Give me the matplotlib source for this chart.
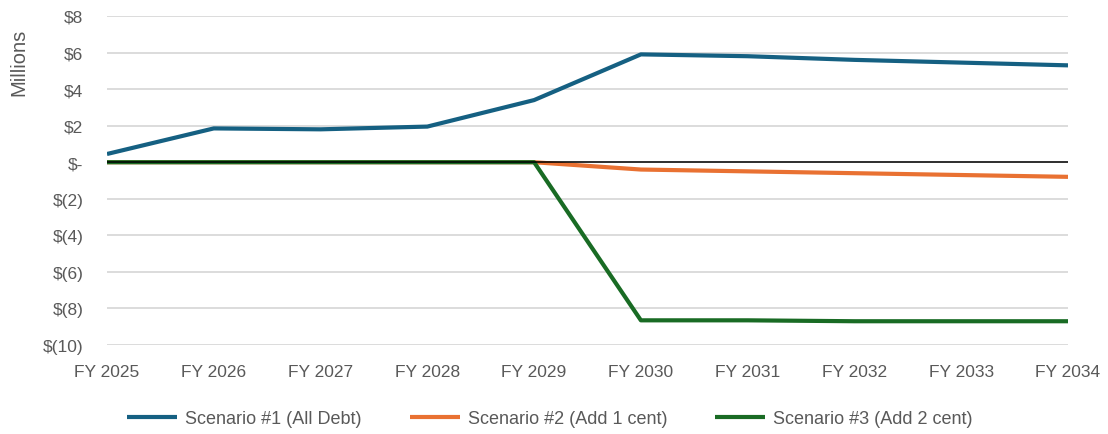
import matplotlib
matplotlib.use("Agg")
import matplotlib.pyplot as plt
from matplotlib.ticker import FuncFormatter, MultipleLocator

years = ["FY 2025", "FY 2026", "FY 2027", "FY 2028", "FY 2029",
         "FY 2030", "FY 2031", "FY 2032", "FY 2033", "FY 2034"]
scenario1 = [0.45, 1.85, 1.8, 1.95, 3.4, 5.9, 5.8, 5.6, 5.45, 5.3]
scenario2 = [0.0, 0.0, 0.0, 0.0, 0.0, -0.4, -0.5, -0.6, -0.7, -0.8]
scenario3 = [0.0, 0.0, 0.0, 0.0, 0.0, -8.65, -8.65, -8.7, -8.7, -8.7]
labels = ["Scenario #1 (All Debt)", "Scenario #2 (Add 1 cent)", "Scenario #3 (Add 2 cent)"]
colors = ["#156082", "#E97132", "#196B24"]

plt.rcParams['font.family'] = ['Liberation Sans', 'DejaVu Sans']

fig = plt.figure(figsize=(11.08, 4.35), dpi=100)
ax = fig.add_axes([107/1108, 1-346/435, (1068-107)/1108, (346-17)/435])

x = list(range(len(years)))
# orange under green, black zero line over green, blue on top
ax.plot(x, scenario1, color=colors[0], lw=3, label=labels[0], zorder=6, solid_capstyle="butt")
ax.plot(x, scenario2, color=colors[1], lw=3, label=labels[1], zorder=3, solid_capstyle="butt")
ax.plot(x, scenario3, color=colors[2], lw=3, label=labels[2], zorder=4, solid_capstyle="butt")

ax.set_xlim(0, 9)
ax.set_ylim(-10, 8)
ax.yaxis.set_major_locator(MultipleLocator(2))
ax.grid(axis="y", color="#D9D9D9", lw=1.3, zorder=0)
ax.axhline(0, color="black", lw=1.1, zorder=5)
for s in ax.spines.values():
    s.set_visible(False)

def money(v, pos):
    v = int(round(v))
    if v == 0:
        return "$-"
    if v < 0:
        return "$(%d)" % (-v)
    return "$%d" % v

ax.yaxis.set_major_formatter(FuncFormatter(money))
ax.set_xticks(x)
ax.set_xticklabels(years)
ax.tick_params(axis="both", length=0, labelsize=12.5, labelcolor="#595959")
ax.tick_params(axis="y", pad=17)
ax.tick_params(axis="x", pad=14)

fig.text(19/1108, 1-62/435, "Millions", rotation=90, ha="center", va="center",
         fontsize=14.5, color="#595959")

fig.legend(loc="center", bbox_to_anchor=(550/1108, 1-420/435), ncol=3, frameon=False,
           fontsize=13, labelcolor="#595959", handlelength=2.77,
           handletextpad=0.44, columnspacing=2.66)

plt.savefig("out.png", dpi=100)
